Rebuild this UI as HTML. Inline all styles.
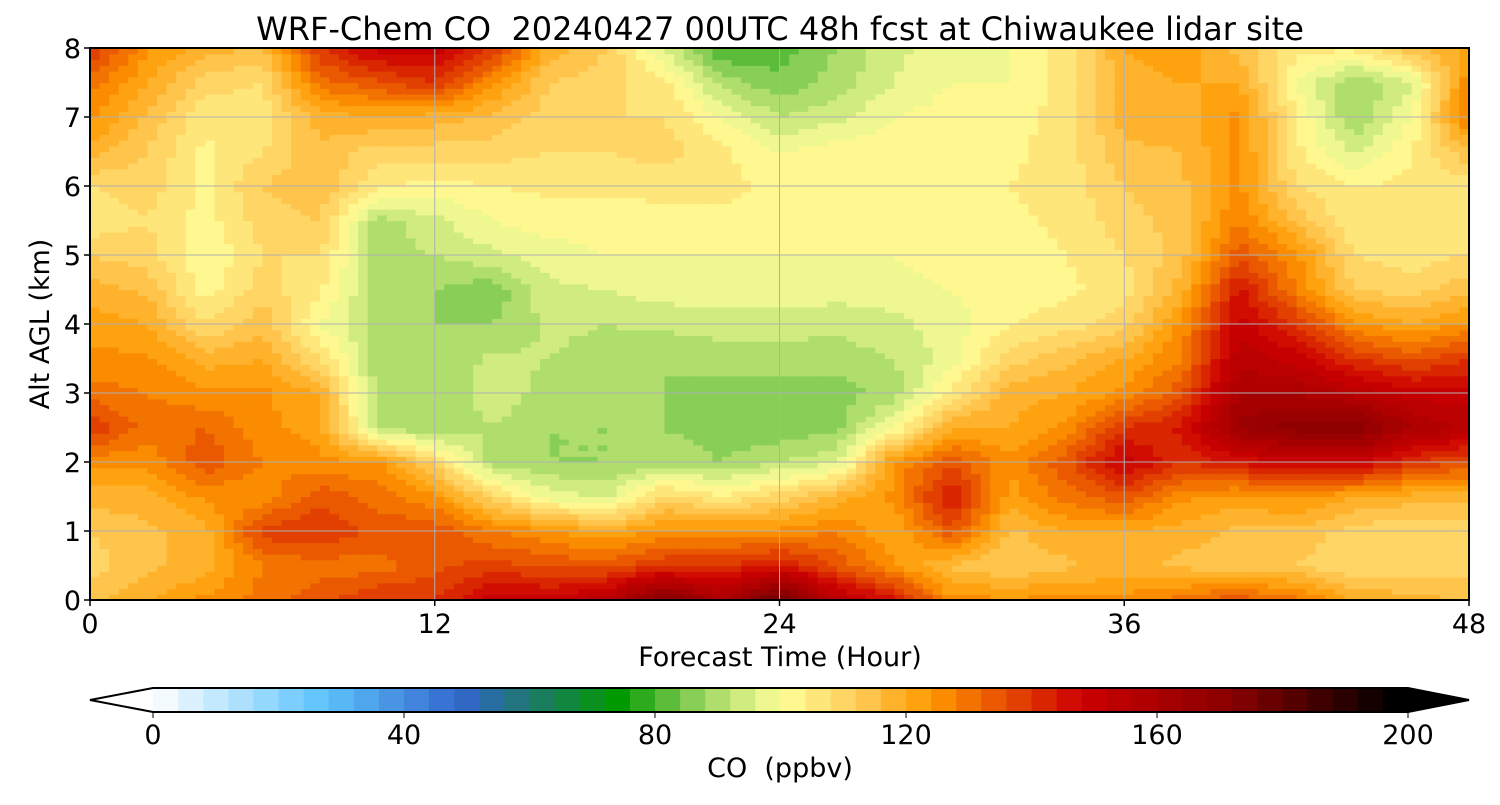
<!DOCTYPE html>
<html><head><meta charset="utf-8"><style>
body{margin:0;background:#fff;}
svg text{font-family:"DejaVu Sans","Liberation Sans",sans-serif;fill:#000;white-space:pre;}
</style></head><body>
<svg id="chart" width="1500" height="800" viewBox="0 0 1500 800" xmlns="http://www.w3.org/2000/svg">
<text x="780" y="40" font-size="32" text-anchor="middle" xml:space="preserve">WRF-Chem CO  20240427 00UTC 48h fcst at Chiwaukee lidar site</text>
<g id="cells"></g>
<g id="grid"></g>
<rect x="90" y="48" width="1379" height="552" fill="none" stroke="#000" stroke-width="2"/>
<g id="xticks"></g>
<g id="yticks"></g>
<text x="780" y="666" font-size="27" text-anchor="middle">Forecast Time (Hour)</text>
<text transform="translate(49,324) rotate(-90)" font-size="27" text-anchor="middle">Alt AGL (km)</text>
<g id="cbar"></g>
<text x="780" y="777" font-size="27" text-anchor="middle" xml:space="preserve">CO  (ppbv)</text>
</svg>
<script>
const hours=[0,2,4,6,8,10,12,14,16,18,20,22,24,26,28,30,32,34,36,38,40,42,44,46,48];
const alts=[0,0.5,1,1.5,2,2.5,3,3.5,4,4.5,5,5.5,6,6.5,7,7.5,8];
// each row: values at alt 0..8 for one hour column
const co=[
[115,110,112,118,125,140,130,125,122,118,112,105,108,118,125,130,140],
[120,115,115,118,125,130,128,125,120,115,110,108,110,112,115,120,125],
[125,118,118,125,135,132,125,118,108,102,100,102,103,103,105,110,118],
[130,128,138,125,128,125,125,120,115,110,108,110,112,108,105,108,115],
[135,130,140,135,125,122,120,108,100,105,108,112,115,115,118,130,140],
[140,130,135,130,125,92,90,90,90,90,90,90,105,110,120,135,150],
[140,135,135,125,110,88,88,88,88,88,92,95,102,110,118,140,150],
[150,138,128,110,90,92,95,93,88,85,95,100,104,110,115,125,140],
[150,135,125,98,88,88,90,92,93,95,98,102,105,108,110,112,118],
[155,135,120,95,88,88,90,90,92,96,100,102,105,108,108,110,112],
[175,140,125,110,90,88,88,88,93,98,100,103,105,110,108,105,95],
[160,140,125,105,88,86,86,90,94,98,100,103,105,105,100,90,80],
[180,145,125,110,92,85,86,90,94,98,100,103,103,100,92,85,82],
[155,135,128,118,95,87,86,90,93,98,100,103,103,102,95,90,88],
[145,125,120,125,125,100,90,92,95,98,100,103,104,103,100,96,95],
[125,115,135,145,135,120,105,98,98,100,102,104,104,104,102,100,98],
[125,112,115,122,125,120,118,110,104,102,102,103,104,103,102,100,100],
[125,115,120,130,135,125,120,115,106,103,104,105,106,106,106,106,106],
[125,118,120,135,150,140,125,120,110,106,108,110,112,115,118,118,120],
[130,115,118,125,140,145,135,128,125,118,114,114,115,116,118,120,122],
[135,112,115,122,145,165,160,155,150,145,135,128,125,125,125,120,115],
[130,112,115,125,150,170,160,150,140,128,125,115,108,105,104,100,105],
[120,108,110,120,150,172,155,140,125,112,108,104,104,95,88,88,105],
[118,108,108,118,140,160,150,135,120,110,106,104,105,104,100,95,115],
[115,110,108,118,135,155,150,140,125,115,108,105,106,115,130,128,120]];
const cbTicks=[0,40,80,120,160,200];
const xTickVals=[0,12,24,36,48];
const yTickVals=[0,1,2,3,4,5,6,7,8];

const X0=90,X1=1469,Y0=600,Y1=48;
const xs=h=>X0+(h-0)/48*(X1-X0);
const ys=a=>Y0-(a/8)*(Y0-Y1);
const stops=[[0,[255,255,255]],[27,[94,196,252]],[49,[51,102,204]],[60,[30,120,110]],[74,[0,153,0]],[88,[160,215,100]],[100,[255,255,153]],[112,[255,205,90]],[124,[255,153,0]],[148,[204,0,0]],[172,[136,0,0]],[198,[0,0,0]],[200,[0,0,0]]];
function cmap(v){v=Math.max(0,Math.min(200,v));
 for(let i=1;i<stops.length;i++){if(v<=stops[i][0]){const [a,ca]=stops[i-1],[b,cb]=stops[i];const t=(v-a)/(b-a);
 return 'rgb('+ca.map((c,k)=>Math.round(c+(cb[k]-c)*t)).join(',')+')';}}return '#000';}
const NS='http://www.w3.org/2000/svg';
function mk(tag,attrs,parent){const e=document.createElementNS(NS,tag);for(const k in attrs)e.setAttribute(k,attrs[k]);parent.appendChild(e);return e;}
const cells=document.getElementById('cells');
const SUB=6;
for(let i=0;i<hours.length-1;i++){for(let j=0;j<alts.length-1;j++){
 const v00=co[i][j],v10=co[i+1][j],v01=co[i][j+1],v11=co[i+1][j+1];
 const xa=xs(hours[i]),xb=xs(hours[i+1]),ya=ys(alts[j]),yb=ys(alts[j+1]);
 for(let p=0;p<SUB;p++)for(let q=0;q<SUB;q++){
  const u=(p+0.5)/SUB,w=(q+0.5)/SUB;
  let v=v00*(1-u)*(1-w)+v10*u*(1-w)+v01*(1-u)*w+v11*u*w;
  v=Math.floor(v/4)*4+2;
  const r=mk('rect',{x:(xa+(xb-xa)*p/SUB).toFixed(2),y:(ya+(yb-ya)*(q+1)/SUB).toFixed(2),width:((xb-xa)/SUB+0.6).toFixed(2),height:((ya-yb)/SUB+0.6).toFixed(2),fill:cmap(v)},cells);
  
  
 }}}
const grid=document.getElementById('grid'),xt=document.getElementById('xticks'),yt=document.getElementById('yticks');
xTickVals.forEach(h=>{const x=xs(h);
 mk('line',{x1:x,x2:x,y1:Y1,y2:Y0,stroke:'#b0b0b0','stroke-width':1},grid);
 mk('line',{x1:x,x2:x,y1:Y0,y2:Y0+6,stroke:'#000','stroke-width':1.5},xt);
 const t=mk('text',{x:x,y:633,'font-size':27,'text-anchor':'middle'},xt);t.textContent=h;
 
 });
yTickVals.forEach(a=>{const y=ys(a);
 mk('line',{x1:X0,x2:X1,y1:y,y2:y,stroke:'#b0b0b0','stroke-width':1},grid);
 mk('line',{x1:X0-6,x2:X0,y1:y,y2:y,stroke:'#000','stroke-width':1.5},yt);
 const t=mk('text',{x:81,y:y+10,'font-size':27,'text-anchor':'end'},yt);t.textContent=a;
 
 });
// colorbar
const cb=document.getElementById('cbar');const C0=153,C1=1408,CT=688,CB=712;
const cx=v=>C0+v/200*(C1-C0);
for(let v=0;v<200;v+=4){const r=mk('rect',{x:cx(v),y:CT,width:cx(4)-cx(0)+0.5,height:CB-CT,fill:cmap(v+2)},cb);
 
 }
mk('polygon',{points:`${C0},${CT} 90,${(CT+CB)/2} ${C0},${CB}`,fill:'#fff'},cb);
mk('polygon',{points:`${C1},${CT} 1469,${(CT+CB)/2} ${C1},${CB}`,fill:'#000'},cb);
mk('polygon',{points:`${C0},${CT} ${C1},${CT} 1469,${(CT+CB)/2} ${C1},${CB} ${C0},${CB} 90,${(CT+CB)/2}`,fill:'none',stroke:'#000','stroke-width':2},cb);
cbTicks.forEach(v=>{const x=cx(v);mk('line',{x1:x,x2:x,y1:CB,y2:CB+6,stroke:'#000'},cb);
 const t=mk('text',{x:x,y:744,'font-size':27,'text-anchor':'middle'},cb);t.textContent=v;
 
 });
</script>
</body></html>
